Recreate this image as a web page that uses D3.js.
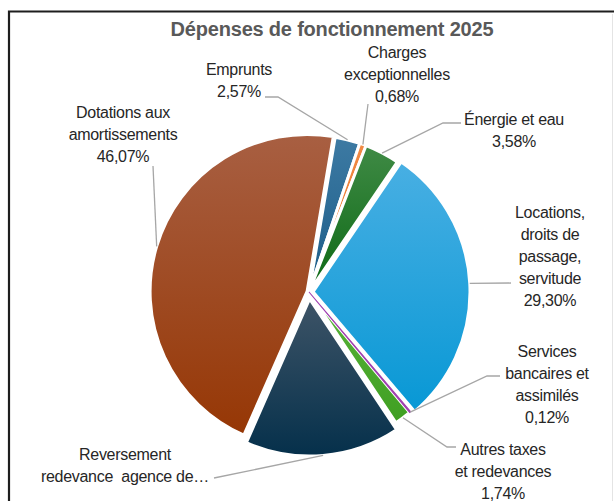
<!DOCTYPE html>
<html>
<head>
<meta charset="utf-8">
<script src="https://cdn.jsdelivr.net/npm/d3@7"></script>
<style>
  html, body { margin: 0; padding: 0; background: #fff; }
  svg { display: block; }
</style>
</head>
<body>
<script>
// ---- Data ----
const title = "Dépenses de fonctionnement 2025";
const categories = [
  "Emprunts",
  "Charges exceptionnelles",
  "Énergie et eau",
  "Locations, droits de passage, servitude",
  "Services bancaires et assimilés",
  "Autres taxes et redevances",
  "Reversement redevance agence de l'eau",
  "Dotations aux amortissements"
];
const values = [2.57, 0.68, 3.58, 29.30, 0.12, 1.74, 15.94, 46.07];
const labelLines = [
  ["Emprunts"],
  ["Charges", "exceptionnelles"],
  ["Énergie et eau"],
  ["Locations,", "droits de", "passage,", "servitude"],
  ["Services", "bancaires et", "assimilés"],
  ["Autres taxes", "et redevances"],
  ["Reversement", "redevance  agence de…"],
  ["Dotations aux", "amortissements"]
];
const showValue = [true, true, true, true, true, true, false, true];

// ---- Styles / layout ----
const W = 614, H = 501;
const cx = 309, cy = 292, R = 157;
const startDeg = 9.6;
const topColors    = ["#3d7aa3", "#f08a44", "#3f8a45", "#48afe3", "#c060c8", "#5ab43a", "#3e5467", "#a85f42"];
const bottomColors = ["#1b5c88", "#e97024", "#0c6914", "#0898d5", "#a040b0", "#3f9f22", "#05304b", "#963705"];
const explode = [0, 0, 0, 4, 0, 0, 7, 2];
const labelPos = [
  {x: 239, y: 75},
  {x: 397, y: 58},
  {x: 514, y: 125},
  {x: 550, y: 218},
  {x: 547, y: 357},
  {x: 503, y: 455},
  {x: 125, y: 460},
  {x: 123, y: 118}
];
const leaderPts = [
  [[265, 97], [278, 97]],
  [[368, 104]],
  [[461, 123], [443, 123]],
  [[511, 283]],
  [[500, 376], [487, 376]],
  [[456, 447], [447, 447]],
  [[214, 478]],
  [[153, 166]]
];
const lineH = 22;
const fmt = v => d3.format(".2f")(v).replace(".", ",") + "%";

const svg = d3.select("body").append("svg").attr("width", W).attr("height", H);
svg.append("rect").attr("width", W).attr("height", H).attr("fill", "#fff");

// frame
svg.append("line").attr("x1", 612.5).attr("x2", 612.5).attr("y1", 14).attr("y2", H)
  .attr("stroke", "#e4e4e4").attr("stroke-width", 1);
svg.append("path").attr("d", `M9,${H} V11.5 H${W}`)
  .attr("fill", "none").attr("stroke", "#1e1e1e").attr("stroke-width", 2.2);

// title
svg.append("text").attr("x", 332).attr("y", 36).attr("text-anchor", "middle")
  .attr("font-family", "Liberation Sans, Arial, sans-serif").attr("font-weight", "bold")
  .attr("font-size", 20).attr("letter-spacing", "-0.2px").attr("fill", "#595959").text(title);

// gradients
const defs = svg.append("defs");
values.forEach((v, i) => {
  const g = defs.append("linearGradient").attr("id", "g" + i)
    .attr("x1", 0).attr("y1", 0).attr("x2", 0).attr("y2", 1);
  g.append("stop").attr("offset", "0%").attr("stop-color", topColors[i]);
  g.append("stop").attr("offset", "100%").attr("stop-color", bottomColors[i]);
});

const a0 = startDeg * Math.PI / 180;
const pie = d3.pie().sort(null).value(d => d).startAngle(a0).endAngle(a0 + 2 * Math.PI);
const arcs = pie(values);
const arc = d3.arc().innerRadius(0).outerRadius(R);

const pieG = svg.append("g").attr("transform", `translate(${cx},${cy})`);
const mid = d => (d.startAngle + d.endAngle) / 2;

pieG.selectAll("path.slice").data(arcs).join("path")
  .attr("class", "slice")
  .attr("transform", (d, i) => `translate(${explode[i] * Math.sin(mid(d))},${-explode[i] * Math.cos(mid(d))})`)
  .attr("d", arc)
  .attr("fill", (d, i) => `url(#g${i})`)
  .attr("stroke", "#fff").attr("stroke-width", 3).attr("stroke-linejoin", "round");

// tiny slice drawn on top so it stays visible
pieG.append("path").datum(arcs[4])
  .attr("d", arc)
  .attr("fill", bottomColors[4]).attr("stroke", bottomColors[4]).attr("stroke-width", 1.1);

// leader lines
arcs.forEach((d, i) => {
  const a = mid(d), rr = R + explode[i];
  const px = cx + rr * Math.sin(a), py = cy - rr * Math.cos(a);
  const pts = leaderPts[i].concat([[px, py]]);
  svg.append("path").attr("d", d3.line()(pts))
    .attr("fill", "none").attr("stroke", "#a6a6a6").attr("stroke-width", 1.3);
});

// labels
arcs.forEach((d, i) => {
  const lines = labelLines[i].slice();
  if (showValue[i]) lines.push(fmt(values[i]));
  const t = svg.append("text").attr("text-anchor", "middle")
    .attr("font-family", "Liberation Sans, Arial, sans-serif")
    .attr("font-size", 16).attr("fill", "#262626")
    .attr("letter-spacing", "-0.3px");
  lines.forEach((ln, k) => {
    t.append("tspan").attr("x", labelPos[i].x).attr("y", labelPos[i].y + k * lineH)
      .attr("xml:space", "preserve").text(ln);
  });
});
</script>
</body>
</html>
